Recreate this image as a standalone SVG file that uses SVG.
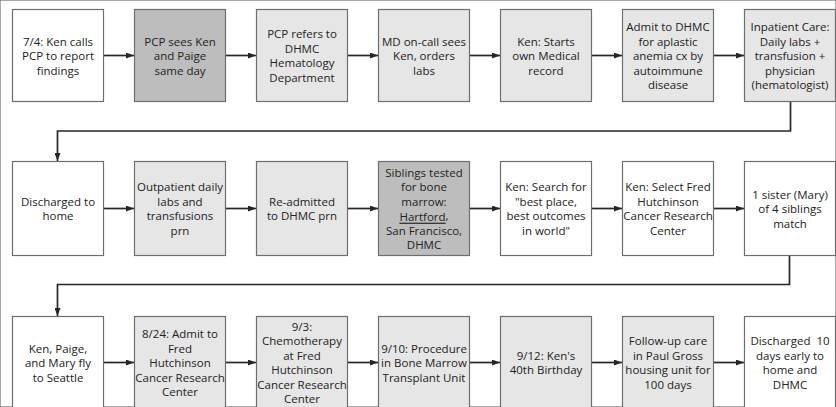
<svg xmlns="http://www.w3.org/2000/svg" width="836" height="407" viewBox="0 0 836 407">
<style>
rect{stroke:#6e6e6e;stroke-width:1.2}
.w{fill:#ffffff}.l{fill:#e6e6e6}.d{fill:#bdbdbd}
text{font-family:"Open Sans","Liberation Sans",sans-serif;font-size:11.5px;fill:#222;text-anchor:middle;dominant-baseline:central}
.c{fill:none;stroke:#262626;stroke-width:1.7}
</style>
<defs>
<marker id="ah" markerUnits="userSpaceOnUse" markerWidth="8" markerHeight="6" refX="8" refY="3" orient="auto">
<path d="M0,0 L8,3 L0,6 z" fill="#262626"/>
</marker>
</defs>
<rect x="0" y="0" width="836" height="407" fill="#fff" stroke="none"/>
<g id="connectors">
<path class="c" d="M103.5,55.5 H134" marker-end="url(#ah)"/>
<path class="c" d="M225.5,55.5 H256" marker-end="url(#ah)"/>
<path class="c" d="M347.5,55.5 H378" marker-end="url(#ah)"/>
<path class="c" d="M469.5,55.5 H500" marker-end="url(#ah)"/>
<path class="c" d="M591.5,55.5 H622" marker-end="url(#ah)"/>
<path class="c" d="M713.5,55.5 H744" marker-end="url(#ah)"/>
<path class="c" d="M790.5,101.5 V131 H57.5 V161" marker-end="url(#ah)"/>
<path class="c" d="M103.5,208.5 H134" marker-end="url(#ah)"/>
<path class="c" d="M225.5,208.5 H256" marker-end="url(#ah)"/>
<path class="c" d="M347.5,208.5 H378" marker-end="url(#ah)"/>
<path class="c" d="M469.5,208.5 H500" marker-end="url(#ah)"/>
<path class="c" d="M591.5,208.5 H622" marker-end="url(#ah)"/>
<path class="c" d="M713.5,208.5 H744" marker-end="url(#ah)"/>
<path class="c" d="M789.5,255.5 V284.5 H57.5 V316" marker-end="url(#ah)"/>
<path class="c" d="M103.5,362.5 H134" marker-end="url(#ah)"/>
<path class="c" d="M225.5,362.5 H256" marker-end="url(#ah)"/>
<path class="c" d="M347.5,362.5 H378" marker-end="url(#ah)"/>
<path class="c" d="M469.5,362.5 H500" marker-end="url(#ah)"/>
<path class="c" d="M591.5,362.5 H622" marker-end="url(#ah)"/>
<path class="c" d="M713.5,362.5 H744" marker-end="url(#ah)"/>
</g>
<!-- Row 1 -->
<g id="n1"><rect class="w" x="12.5" y="9.5" width="91" height="92"/>
<text x="58" y="41">7/4: Ken calls</text><text x="58" y="55.5">PCP to report</text><text x="58" y="70">findings</text></g>
<g id="n2"><rect class="d" x="134.5" y="9.5" width="91" height="92"/>
<text x="180" y="41">PCP sees Ken</text><text x="180" y="55.5">and Paige</text><text x="180" y="70">same day</text></g>
<g id="n3"><rect class="l" x="256.5" y="9.5" width="91" height="92"/>
<text x="302" y="33.7">PCP refers to</text><text x="302" y="48.2">DHMC</text><text x="302" y="62.7">Hematology</text><text x="302" y="77.2">Department</text></g>
<g id="n4"><rect class="l" x="378.5" y="9.5" width="91" height="92"/>
<text x="424" y="41">MD on-call sees</text><text x="424" y="55.5">Ken, orders</text><text x="424" y="70">labs</text></g>
<g id="n5"><rect class="l" x="500.5" y="9.5" width="91" height="92"/>
<text x="546" y="41">Ken: Starts</text><text x="546" y="55.5">own Medical</text><text x="546" y="70">record</text></g>
<g id="n6"><rect class="l" x="622.5" y="9.5" width="91" height="92"/>
<text x="668" y="26.5">Admit to DHMC</text><text x="668" y="41">for aplastic</text><text x="668" y="55.5">anemia cx by</text><text x="668" y="70">autoimmune</text><text x="668" y="84.5">disease</text></g>
<g id="n7"><rect class="l" x="744.5" y="9.5" width="91" height="92"/>
<text x="790" y="26.5">Inpatient Care:</text><text x="790" y="41">Daily labs +</text><text x="790" y="55.5">transfusion +</text><text x="790" y="70">physician</text><text x="790" y="84.5">(hematologist)</text></g>
<!-- Row 2 -->
<g id="n8"><rect class="w" x="12.5" y="161.5" width="91" height="94"/>
<text x="58" y="201.2">Discharged to</text><text x="58" y="215.7">home</text></g>
<g id="n9"><rect class="l" x="134.5" y="161.5" width="91" height="94"/>
<text x="180" y="186.7">Outpatient daily</text><text x="180" y="201.2">labs and</text><text x="180" y="215.7">transfusions</text><text x="180" y="230.2">prn</text></g>
<g id="n10"><rect class="l" x="256.5" y="161.5" width="91" height="94"/>
<text x="302" y="201.2">Re-admitted</text><text x="302" y="215.7">to DHMC prn</text></g>
<g id="n11"><rect class="d" x="378.5" y="161.5" width="91" height="94"/>
<text x="424" y="172.2">Siblings tested</text><text x="424" y="186.7">for bone</text><text x="424" y="201.2">marrow:</text><text x="424" y="215.7"><tspan text-decoration="underline">Hartford</tspan>,</text><text x="424" y="230.2">San Francisco,</text><text x="424" y="244.7">DHMC</text></g>
<g id="n12"><rect class="w" x="500.5" y="161.5" width="91" height="94"/>
<text x="546" y="186.7">Ken: Search for</text><text x="546" y="201.2">"best place,</text><text x="546" y="215.7">best outcomes</text><text x="546" y="230.2">in world"</text></g>
<g id="n13"><rect class="w" x="622.5" y="161.5" width="91" height="94"/>
<text x="668" y="186.7">Ken: Select Fred</text><text x="668" y="201.2">Hutchinson</text><text x="668" y="215.7">Cancer Research</text><text x="668" y="230.2">Center</text></g>
<g id="n14"><rect class="w" x="744.5" y="161.5" width="91" height="94"/>
<text x="790" y="194">1 sister (Mary)</text><text x="790" y="208.5">of 4 siblings</text><text x="790" y="223">match</text></g>
<!-- Row 3 -->
<g id="n15"><rect class="w" x="12.5" y="316.5" width="91" height="92"/>
<text x="58" y="348">Ken, Paige,</text><text x="58" y="362.5">and Mary fly</text><text x="58" y="377">to Seattle</text></g>
<g id="n16"><rect class="l" x="134.5" y="316.5" width="91" height="92"/>
<text x="180" y="333.5">8/24: Admit to</text><text x="180" y="348">Fred</text><text x="180" y="362.5">Hutchinson</text><text x="180" y="377">Cancer Research</text><text x="180" y="391.5">Center</text></g>
<g id="n17"><rect class="l" x="256.5" y="316.5" width="91" height="92"/>
<text x="302" y="326.2">9/3:</text><text x="302" y="340.7">Chemotherapy</text><text x="302" y="355.2">at Fred</text><text x="302" y="369.7">Hutchinson</text><text x="302" y="384.2">Cancer Research</text><text x="302" y="398.7">Center</text></g>
<g id="n18"><rect class="l" x="378.5" y="316.5" width="91" height="92"/>
<text x="424" y="348">9/10: Procedure</text><text x="424" y="362.5">in Bone Marrow</text><text x="424" y="377">Transplant Unit</text></g>
<g id="n19"><rect class="l" x="500.5" y="316.5" width="91" height="92"/>
<text x="546" y="355.2">9/12: Ken's</text><text x="546" y="369.7">40th Birthday</text></g>
<g id="n20"><rect class="l" x="622.5" y="316.5" width="91" height="92"/>
<text x="668" y="340.7">Follow-up care</text><text x="668" y="355.2">in Paul Gross</text><text x="668" y="369.7">housing unit for</text><text x="668" y="384.2">100 days</text></g>
<g id="n21"><rect class="w" x="744.5" y="316.5" width="91" height="92"/>
<text x="790" y="340.7" xml:space="preserve">Discharged  10</text><text x="790" y="355.2">days early to</text><text x="790" y="369.7">home and</text><text x="790" y="384.2">DHMC</text></g>
</svg>
